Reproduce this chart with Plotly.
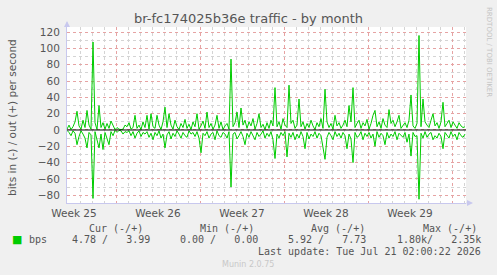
import pandas as pd
import plotly.graph_objects as go

# ---- data (bits per second, 4-hour samples) ----
start_time = "2026-06-17 22:00"
n_points = 200
out_bps = [
    1, 6, 0.5, 4, 10, 23, 5, 1, 12, 3,
    24, 6, 1, 108, 9, 0.5, 30, 3, 9, 1,
    8, 2, 11, 5, 0.5, 3, 1, 0.5, 1, 6,
    4, 9, 1, 3, 18, 2, 6, 0.5, 10, 3,
    18, 1, 20, 4, 2, 18, 6, 0.5, 10, 28,
    3, 20, 6, 1, 12, 4, 0.5, 8, 3, 13,
    2, 7, 0.5, 10, 4, 20, 1, 5, 11, 2,
    22, 3, 8, 1, 6, 18, 2, 10, 0.5, 5,
    8, 1, 87, 4, 9, 22, 3, 27, 6, 12,
    2, 10, 5, 14, 1, 8, 20, 3, 7, 0.5,
    9, 2, 12, 5, 52, 4, 10, 1, 14, 6,
    3, 55, 8, 12, 2, 6, 38, 4, 10, 1,
    8, 3, 12, 5, 0.5, 9, 4, 14, 2, 50,
    10, 3, 8, 1, 18, 5, 9, 2, 6, 12,
    4, 30, 10, 52, 3, 8, 12, 2, 9, 5,
    13, 1, 8, 18, 24, 4, 10, 2, 14, 6,
    3, 25, 8, 12, 4, 10, 18, 2, 6, 9,
    3, 12, 43, 5, 2, 8, 116, 4, 38, 10,
    6, 3, 12, 20, 5, 9, 2, 10, 34, 4,
    8, 12, 3, 10, 6, 2, 9, 5, 3, 4,
]
in_bps = [
    0.5, 3, 7, 1, 4, 18, 8, 1, 5, 10,
    22, 3, 6, 84, 2, 12, 22, 5, 24, 3,
    10, 18, 2, 7, 0.5, 3, 0.5, 1, 5, 2,
    3, 1, 7, 2, 10, 4, 1, 8, 3, 5,
    2, 9, 4, 12, 3, 7, 1, 10, 5, 22,
    6, 2, 11, 4, 8, 1, 5, 10, 3, 7,
    9, 1, 5, 3, 8, 2, 10, 28, 4, 7,
    2, 10, 5, 3, 12, 1, 7, 9, 3, 5,
    10, 2, 70, 5, 3, 11, 7, 2, 8, 18,
    4, 9, 2, 7, 12, 3, 8, 5, 1, 10,
    4, 8, 2, 12, 35, 5, 10, 3, 7, 2,
    33, 4, 9, 3, 12, 5, 10, 2, 8, 23,
    3, 11, 5, 8, 2, 10, 4, 7, 20, 36,
    9, 3, 7, 12, 2, 8, 4, 10, 3, 7,
    23, 5, 11, 40, 3, 9, 7, 2, 12, 4,
    8, 3, 10, 5, 20, 2, 9, 4, 7, 18,
    3, 10, 5, 8, 2, 12, 4, 7, 9, 3,
    15, 5, 32, 3, 8, 7, 85, 4, 10, 2,
    9, 5, 3, 12, 7, 10, 4, 8, 23, 3,
    7, 10, 2, 8, 5, 12, 3, 7, 9, 5,
]
legend_headers = ["Cur (-/+)", "Min (-/+)", "Avg (-/+)", "Max (-/+)"]
legend_values = ["4.78 /   3.99", "0.00 /   0.00", "5.92 /   7.73", "1.80k/   2.35k"]
x_range = ["2026-06-17 22:00", "2026-07-21 04:00"]
y_range = [-89.6, 126.4]

times = pd.date_range(start_time, periods=n_points, freq="4h")
GREEN = "#00cc00"

# layout geometry (pixels)
W, H = 497, 275
ML, MR, MT, MB = 67, 31, 27, 72
PW, PH = W - ML - MR, H - MT - MB


def px(x):
    return (x - ML) / PW


def py(y):
    return (H - MB - y) / PH


fig = go.Figure()
fig.add_trace(go.Scatter(x=times, y=out_bps, mode="lines",
                         line=dict(color=GREEN, width=1), showlegend=False))
fig.add_trace(go.Scatter(x=times, y=[-v for v in in_bps], mode="lines",
                         line=dict(color=GREEN, width=1), showlegend=False))
fig.add_hline(y=0, line_color="black", line_width=1, layer="above")

fig.update_layout(
    width=W, height=H,
    margin=dict(l=ML, r=MR, t=MT, b=MB, pad=0),
    paper_bgcolor="#f0f0f0",
    plot_bgcolor="white",
    font=dict(family="DejaVu Sans", color="#555555", size=10),
    showlegend=False,
)
fig.update_xaxes(
    type="date", range=x_range,
    tick0="2026-06-22", dtick=7 * 86400000,
    ticklabelmode="period", tickformat="Week %V",
    showgrid=True, gridcolor="#e6a3a3", griddash="dot", gridwidth=1,
    minor=dict(dtick=86400000, tick0="2026-06-22", showgrid=True,
               gridcolor="#d4d4d4", griddash="dot", gridwidth=1),
    showline=True, linecolor="#c8c8ee", linewidth=1,
    ticks="", tickfont=dict(size=10.5, color="#555555"),
    zeroline=False, fixedrange=True,
)
fig.update_yaxes(
    range=y_range, tick0=0, dtick=20,
    showgrid=True, gridcolor="#e6a3a3", griddash="dot", gridwidth=1,
    minor=dict(dtick=10, showgrid=True, gridcolor="#d4d4d4",
               griddash="dot", gridwidth=1),
    showline=True, linecolor="#c8c8ee", linewidth=1,
    ticks="", ticklabelstandoff=4,
    tickfont=dict(size=10.5, color="#555555"),
    zeroline=False,
)

ann = []
# title
ann.append(dict(x=px(248), y=py(18), xref="paper", yref="paper",
                text="br-fc174025b36e traffic - by month", showarrow=False,
                font=dict(size=13, color="#555555"), xanchor="center", yanchor="middle"))
# y-axis title
ann.append(dict(x=px(12), y=py(118), xref="paper", yref="paper",
                text="bits in (-) / out (+) per second", showarrow=False, textangle=-90,
                font=dict(size=10.5, color="#555555"), xanchor="center", yanchor="middle"))
# rrdtool watermark
ann.append(dict(x=px(489), y=py(5), xref="paper", yref="paper",
                text="RRDTOOL / TOBI OETIKER", showarrow=False, textangle=90,
                font=dict(size=7, color="#c4c4c4"), xanchor="center", yanchor="top"))
# axis arrows
ann.append(dict(x=px(67), y=py(21), ax=0, ay=7, xref="paper", yref="paper",
                axref="pixel", ayref="pixel", showarrow=True, arrowhead=2,
                arrowsize=1.2, arrowwidth=1, arrowcolor="#c8c8ee", text=""))
ann.append(dict(x=px(473), y=py(203), ax=-8, ay=0, xref="paper", yref="paper",
                axref="pixel", ayref="pixel", showarrow=True, arrowhead=2,
                arrowsize=1.2, arrowwidth=1, arrowcolor="#c8c8ee", text=""))

mono = "DejaVu Sans Mono"
# legend
ann.append(dict(x=px(17), y=py(239), xref="paper", yref="paper", text="■",
                showarrow=False, font=dict(family="DejaVu Sans", size=11, color=GREEN),
                xanchor="center", yanchor="middle"))
ann.append(dict(x=px(27), y=py(239), xref="paper", yref="paper", text="bps",
                showarrow=False, font=dict(family=mono, size=10, color="#555555"),
                xanchor="left", yanchor="middle"))
header_centers = [116, 227, 338, 450]
value_rights = [152, 260, 368, 483]
for h, cx in zip(legend_headers, header_centers):
    ann.append(dict(x=px(cx), y=py(228), xref="paper", yref="paper", text=h,
                    showarrow=False, font=dict(family=mono, size=10, color="#555555"),
                    xanchor="center", yanchor="middle"))
for v, rx in zip(legend_values, value_rights):
    ann.append(dict(x=px(rx), y=py(239), xref="paper", yref="paper",
                    text=v.replace(" ", "&nbsp;"),
                    showarrow=False, font=dict(family=mono, size=10, color="#555555"),
                    xanchor="right", yanchor="middle"))
ann.append(dict(x=px(483), y=py(251), xref="paper", yref="paper",
                text="Last update: Tue Jul 21 02:00:22 2026".replace(" ", "&nbsp;"),
                showarrow=False, font=dict(family=mono, size=10, color="#555555"),
                xanchor="right", yanchor="middle"))
ann.append(dict(x=px(248), y=py(264), xref="paper", yref="paper", text="Munin 2.0.75",
                showarrow=False, font=dict(family="DejaVu Sans", size=8, color="#c8c8c8"),
                xanchor="center", yanchor="middle"))
fig.update_layout(annotations=ann)

fig.write_html("out.html")
